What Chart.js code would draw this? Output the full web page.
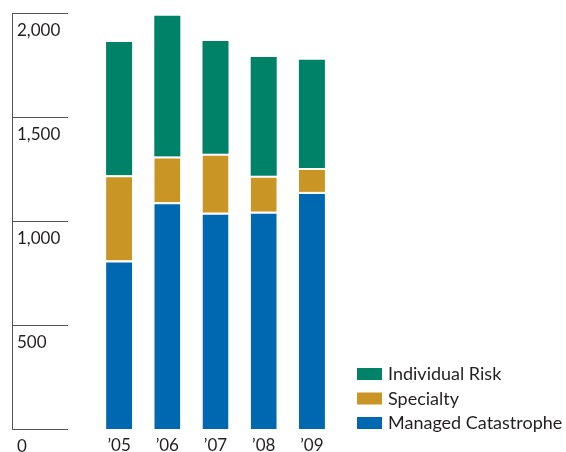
<!DOCTYPE html>
<html>
<head>
<meta charset="utf-8">
<script src="https://cdn.jsdelivr.net/npm/chart.js@4.4.1/dist/chart.umd.min.js"></script>
<style>
    html, body { margin: 0; padding: 0; background: #fff; }
    #wrap { width: 566px; height: 452px; }
</style>
</head>
<body>
<div id="wrap"><canvas id="lossChart" width="566" height="452"></canvas></div>
<script>
// Данные графика
const years = ["\u201905", "\u201906", "\u201907", "\u201908", "\u201909"];
const managedCat = [810, 1090, 1040, 1045, 1140];
const specialty = [410, 220, 283, 172, 115];
const individualRisk = [640, 677, 542, 572, 520];
const yTicks = [0, 500, 1000, 1500, 2000];
const yTickLabels = ["0", "500", "1,000", "1,500", "2,000"];

const FONT = "Lato, 'Open Sans', sans-serif";
const TEXT = '#231f20';

// Ось Y и легенда рисуются вручную
const customAxisAndLegend = {
    id: 'customAxisAndLegend',
    afterDraw(chart) {
        const ctx = chart.ctx;
        const y = chart.scales.y;
        const area = chart.chartArea;
        ctx.save();
        ctx.strokeStyle = '#555';
        ctx.lineWidth = 1;
        ctx.beginPath();
        ctx.moveTo(12.5, y.getPixelForValue(yTicks[yTicks.length - 1]));
        ctx.lineTo(12.5, y.getPixelForValue(0) + 0.5);
        yTicks.forEach(v => {
            const py = Math.round(y.getPixelForValue(v)) + 0.5;
            ctx.moveTo(12, py);
            ctx.lineTo(68, py);
        });
        ctx.stroke();

        ctx.fillStyle = TEXT;
        ctx.font = '17px ' + FONT;
        ctx.textBaseline = 'alphabetic';
        ctx.textAlign = 'left';
        yTicks.forEach((v, i) => {
            ctx.fillText(yTickLabels[i], 17, y.getPixelForValue(v) + 23);
        });

        // легенда (обратный порядок)
        ctx.font = '18px ' + FONT;
        const items = chart.data.datasets.slice().reverse();
        const rowH = 24.5;
        const bottom = area.bottom;
        items.forEach((ds, i) => {
            const top = bottom - 12 - (items.length - 1 - i) * rowH;
            ctx.fillStyle = ds.backgroundColor;
            ctx.fillRect(357, top, 25, 12);
            ctx.fillStyle = TEXT;
            ctx.fillText(ds.label, 388, top + 12);
        });
        ctx.restore();
    }
};

const whiteTop = { top: 2, left: 0, right: 0, bottom: 0 };

new Chart(document.getElementById('lossChart').getContext('2d'), {
    type: 'bar',
    data: {
        labels: years,
        datasets: [
            {
                label: 'Managed Catastrophe',
                data: managedCat,
                backgroundColor: '#0067b1',
                borderColor: '#ffffff',
                borderWidth: whiteTop,
                borderSkipped: false
            },
            {
                label: 'Specialty',
                data: specialty,
                backgroundColor: '#c99524',
                borderColor: '#ffffff',
                borderWidth: whiteTop,
                borderSkipped: false
            },
            {
                label: 'Individual Risk',
                data: individualRisk,
                backgroundColor: '#008268',
                borderWidth: 0
            }
        ]
    },
    options: {
        responsive: false,
        animation: false,
        layout: {
            padding: { left: 95, right: 230, top: 13, bottom: 0 }
        },
        datasets: {
            bar: { barPercentage: 0.54, categoryPercentage: 1 }
        },
        scales: {
            x: {
                stacked: true,
                grid: { display: false, drawTicks: false },
                border: { display: false },
                ticks: {
                    color: TEXT,
                    font: { family: FONT, size: 17 },
                    padding: 6,
                    maxRotation: 0
                },
                afterFit: scale => { scale.height = 23; }
            },
            y: {
                stacked: true,
                display: false,
                min: 0,
                max: 2000
            }
        },
        plugins: {
            legend: { display: false },
            tooltip: { enabled: false }
        }
    },
    plugins: [customAxisAndLegend]
});
</script>
</body>
</html>
